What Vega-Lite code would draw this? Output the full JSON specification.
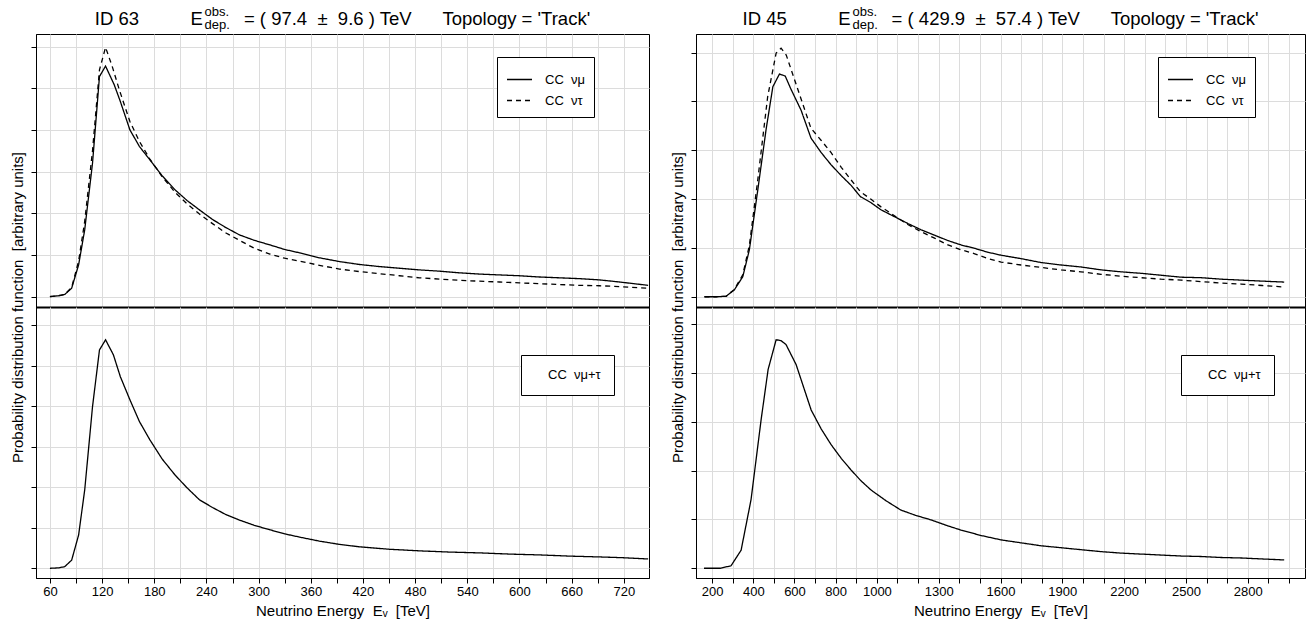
{
  "$schema": "https://vega.github.io/schema/vega-lite/v6.json",
  "background": "white",
  "padding": {"left": 9, "top": 6, "right": 6, "bottom": 4},
  "config": {
    "font": "Liberation Sans",
    "view": {"stroke": "#000", "strokeWidth": 1},
    "axis": {"gridColor": "#dcdcdc", "gridWidth": 1, "domainColor": "#000", "tickColor": "#000", "labelColor": "#000", "titleColor": "#000", "labelFont": "Liberation Sans", "titleFont": "Liberation Sans", "titleFontWeight": "normal", "labelFontSize": 13, "titleFontSize": 15},
    "title": {"font": "Liberation Sans", "fontWeight": "normal", "color": "#000", "subtitleFont": "Liberation Sans", "subtitleColor": "#000"},
    "legend": {"labelFont": "Liberation Sans", "labelFontSize": 13, "labelColor": "#000"}
  },
  "datasets": {
    "a_up": [
      {"E": 60, "pdf": 0, "ch": "mu"}, {"E": 70, "pdf": 0.02, "ch": "mu"}, {"E": 77, "pdf": 0.05, "ch": "mu"}, {"E": 85, "pdf": 0.2, "ch": "mu"}, {"E": 93, "pdf": 0.76, "ch": "mu"}, {"E": 100, "pdf": 1.6, "ch": "mu"}, {"E": 109, "pdf": 3.2, "ch": "mu"}, {"E": 117, "pdf": 5.28, "ch": "mu"}, {"E": 124, "pdf": 5.53, "ch": "mu"}, {"E": 134, "pdf": 5.08, "ch": "mu"}, {"E": 141, "pdf": 4.68, "ch": "mu"}, {"E": 152, "pdf": 4.0, "ch": "mu"}, {"E": 163, "pdf": 3.6, "ch": "mu"}, {"E": 175, "pdf": 3.28, "ch": "mu"}, {"E": 189, "pdf": 2.9, "ch": "mu"}, {"E": 204, "pdf": 2.56, "ch": "mu"}, {"E": 218, "pdf": 2.3, "ch": "mu"}, {"E": 232, "pdf": 2.08, "ch": "mu"}, {"E": 247, "pdf": 1.85, "ch": "mu"}, {"E": 262, "pdf": 1.66, "ch": "mu"}, {"E": 278, "pdf": 1.48, "ch": "mu"}, {"E": 295, "pdf": 1.35, "ch": "mu"}, {"E": 313, "pdf": 1.24, "ch": "mu"}, {"E": 330, "pdf": 1.13, "ch": "mu"}, {"E": 347, "pdf": 1.05, "ch": "mu"}, {"E": 370, "pdf": 0.93, "ch": "mu"}, {"E": 393, "pdf": 0.84, "ch": "mu"}, {"E": 416, "pdf": 0.77, "ch": "mu"}, {"E": 439, "pdf": 0.72, "ch": "mu"}, {"E": 462, "pdf": 0.68, "ch": "mu"}, {"E": 485, "pdf": 0.64, "ch": "mu"}, {"E": 508, "pdf": 0.61, "ch": "mu"}, {"E": 531, "pdf": 0.57, "ch": "mu"}, {"E": 554, "pdf": 0.54, "ch": "mu"}, {"E": 577, "pdf": 0.52, "ch": "mu"}, {"E": 600, "pdf": 0.5, "ch": "mu"}, {"E": 623, "pdf": 0.47, "ch": "mu"}, {"E": 646, "pdf": 0.45, "ch": "mu"}, {"E": 669, "pdf": 0.43, "ch": "mu"}, {"E": 692, "pdf": 0.4, "ch": "mu"}, {"E": 715, "pdf": 0.35, "ch": "mu"}, {"E": 748, "pdf": 0.27, "ch": "mu"},
      {"E": 60, "pdf": 0, "ch": "tau"}, {"E": 70, "pdf": 0.02, "ch": "tau"}, {"E": 77, "pdf": 0.05, "ch": "tau"}, {"E": 85, "pdf": 0.22, "ch": "tau"}, {"E": 93, "pdf": 0.85, "ch": "tau"}, {"E": 100, "pdf": 1.8, "ch": "tau"}, {"E": 109, "pdf": 3.5, "ch": "tau"}, {"E": 117, "pdf": 5.44, "ch": "tau"}, {"E": 124, "pdf": 5.98, "ch": "tau"}, {"E": 132, "pdf": 5.5, "ch": "tau"}, {"E": 140, "pdf": 4.95, "ch": "tau"}, {"E": 152, "pdf": 4.2, "ch": "tau"}, {"E": 163, "pdf": 3.72, "ch": "tau"}, {"E": 175, "pdf": 3.3, "ch": "tau"}, {"E": 189, "pdf": 2.88, "ch": "tau"}, {"E": 204, "pdf": 2.5, "ch": "tau"}, {"E": 218, "pdf": 2.22, "ch": "tau"}, {"E": 232, "pdf": 1.98, "ch": "tau"}, {"E": 247, "pdf": 1.75, "ch": "tau"}, {"E": 262, "pdf": 1.53, "ch": "tau"}, {"E": 278, "pdf": 1.35, "ch": "tau"}, {"E": 295, "pdf": 1.16, "ch": "tau"}, {"E": 313, "pdf": 1.02, "ch": "tau"}, {"E": 330, "pdf": 0.92, "ch": "tau"}, {"E": 347, "pdf": 0.85, "ch": "tau"}, {"E": 370, "pdf": 0.75, "ch": "tau"}, {"E": 393, "pdf": 0.66, "ch": "tau"}, {"E": 416, "pdf": 0.6, "ch": "tau"}, {"E": 439, "pdf": 0.55, "ch": "tau"}, {"E": 462, "pdf": 0.5, "ch": "tau"}, {"E": 485, "pdf": 0.45, "ch": "tau"}, {"E": 508, "pdf": 0.42, "ch": "tau"}, {"E": 531, "pdf": 0.39, "ch": "tau"}, {"E": 554, "pdf": 0.37, "ch": "tau"}, {"E": 577, "pdf": 0.35, "ch": "tau"}, {"E": 600, "pdf": 0.33, "ch": "tau"}, {"E": 623, "pdf": 0.31, "ch": "tau"}, {"E": 646, "pdf": 0.29, "ch": "tau"}, {"E": 669, "pdf": 0.27, "ch": "tau"}, {"E": 692, "pdf": 0.26, "ch": "tau"}, {"E": 715, "pdf": 0.24, "ch": "tau"}, {"E": 748, "pdf": 0.2, "ch": "tau"}
    ],
    "a_lo": [
      {"E": 60, "pdf": 0, "ch": "sum"}, {"E": 70, "pdf": 0.01, "ch": "sum"}, {"E": 77, "pdf": 0.04, "ch": "sum"}, {"E": 85, "pdf": 0.2, "ch": "sum"}, {"E": 93, "pdf": 0.82, "ch": "sum"}, {"E": 100, "pdf": 1.93, "ch": "sum"}, {"E": 109, "pdf": 3.99, "ch": "sum"}, {"E": 117, "pdf": 5.39, "ch": "sum"}, {"E": 124, "pdf": 5.64, "ch": "sum"}, {"E": 133, "pdf": 5.27, "ch": "sum"}, {"E": 141, "pdf": 4.73, "ch": "sum"}, {"E": 152, "pdf": 4.16, "ch": "sum"}, {"E": 163, "pdf": 3.62, "ch": "sum"}, {"E": 175, "pdf": 3.17, "ch": "sum"}, {"E": 189, "pdf": 2.7, "ch": "sum"}, {"E": 204, "pdf": 2.3, "ch": "sum"}, {"E": 218, "pdf": 1.98, "ch": "sum"}, {"E": 232, "pdf": 1.69, "ch": "sum"}, {"E": 247, "pdf": 1.5, "ch": "sum"}, {"E": 262, "pdf": 1.33, "ch": "sum"}, {"E": 278, "pdf": 1.19, "ch": "sum"}, {"E": 295, "pdf": 1.06, "ch": "sum"}, {"E": 313, "pdf": 0.95, "ch": "sum"}, {"E": 330, "pdf": 0.85, "ch": "sum"}, {"E": 347, "pdf": 0.77, "ch": "sum"}, {"E": 370, "pdf": 0.67, "ch": "sum"}, {"E": 393, "pdf": 0.59, "ch": "sum"}, {"E": 416, "pdf": 0.53, "ch": "sum"}, {"E": 450, "pdf": 0.47, "ch": "sum"}, {"E": 485, "pdf": 0.43, "ch": "sum"}, {"E": 520, "pdf": 0.4, "ch": "sum"}, {"E": 554, "pdf": 0.38, "ch": "sum"}, {"E": 589, "pdf": 0.35, "ch": "sum"}, {"E": 623, "pdf": 0.33, "ch": "sum"}, {"E": 658, "pdf": 0.3, "ch": "sum"}, {"E": 692, "pdf": 0.28, "ch": "sum"}, {"E": 720, "pdf": 0.26, "ch": "sum"}, {"E": 748, "pdf": 0.23, "ch": "sum"}
    ],
    "b_up": [
      {"E": 163, "pdf": 0, "ch": "mu"}, {"E": 220, "pdf": 0, "ch": "mu"}, {"E": 268, "pdf": 0.01, "ch": "mu"}, {"E": 308, "pdf": 0.14, "ch": "mu"}, {"E": 349, "pdf": 0.41, "ch": "mu"}, {"E": 381, "pdf": 0.96, "ch": "mu"}, {"E": 422, "pdf": 2.19, "ch": "mu"}, {"E": 462, "pdf": 3.42, "ch": "mu"}, {"E": 495, "pdf": 4.3, "ch": "mu"}, {"E": 527, "pdf": 4.56, "ch": "mu"}, {"E": 555, "pdf": 4.52, "ch": "mu"}, {"E": 583, "pdf": 4.25, "ch": "mu"}, {"E": 632, "pdf": 3.82, "ch": "mu"}, {"E": 680, "pdf": 3.25, "ch": "mu"}, {"E": 730, "pdf": 2.95, "ch": "mu"}, {"E": 778, "pdf": 2.7, "ch": "mu"}, {"E": 827, "pdf": 2.48, "ch": "mu"}, {"E": 875, "pdf": 2.28, "ch": "mu"}, {"E": 920, "pdf": 2.05, "ch": "mu"}, {"E": 970, "pdf": 1.93, "ch": "mu"}, {"E": 1020, "pdf": 1.78, "ch": "mu"}, {"E": 1085, "pdf": 1.64, "ch": "mu"}, {"E": 1150, "pdf": 1.5, "ch": "mu"}, {"E": 1215, "pdf": 1.37, "ch": "mu"}, {"E": 1280, "pdf": 1.26, "ch": "mu"}, {"E": 1345, "pdf": 1.15, "ch": "mu"}, {"E": 1409, "pdf": 1.06, "ch": "mu"}, {"E": 1475, "pdf": 0.99, "ch": "mu"}, {"E": 1540, "pdf": 0.91, "ch": "mu"}, {"E": 1603, "pdf": 0.85, "ch": "mu"}, {"E": 1700, "pdf": 0.78, "ch": "mu"}, {"E": 1797, "pdf": 0.7, "ch": "mu"}, {"E": 1894, "pdf": 0.65, "ch": "mu"}, {"E": 1990, "pdf": 0.61, "ch": "mu"}, {"E": 2088, "pdf": 0.55, "ch": "mu"}, {"E": 2185, "pdf": 0.51, "ch": "mu"}, {"E": 2282, "pdf": 0.48, "ch": "mu"}, {"E": 2380, "pdf": 0.44, "ch": "mu"}, {"E": 2477, "pdf": 0.4, "ch": "mu"}, {"E": 2574, "pdf": 0.39, "ch": "mu"}, {"E": 2671, "pdf": 0.36, "ch": "mu"}, {"E": 2768, "pdf": 0.34, "ch": "mu"}, {"E": 2870, "pdf": 0.32, "ch": "mu"}, {"E": 2977, "pdf": 0.3, "ch": "mu"},
      {"E": 163, "pdf": 0, "ch": "tau"}, {"E": 220, "pdf": 0, "ch": "tau"}, {"E": 268, "pdf": 0.01, "ch": "tau"}, {"E": 308, "pdf": 0.15, "ch": "tau"}, {"E": 349, "pdf": 0.45, "ch": "tau"}, {"E": 381, "pdf": 1.05, "ch": "tau"}, {"E": 422, "pdf": 2.4, "ch": "tau"}, {"E": 470, "pdf": 4.1, "ch": "tau"}, {"E": 511, "pdf": 4.99, "ch": "tau"}, {"E": 535, "pdf": 5.09, "ch": "tau"}, {"E": 560, "pdf": 4.95, "ch": "tau"}, {"E": 600, "pdf": 4.45, "ch": "tau"}, {"E": 632, "pdf": 4.05, "ch": "tau"}, {"E": 680, "pdf": 3.45, "ch": "tau"}, {"E": 730, "pdf": 3.2, "ch": "tau"}, {"E": 778, "pdf": 2.95, "ch": "tau"}, {"E": 827, "pdf": 2.65, "ch": "tau"}, {"E": 875, "pdf": 2.39, "ch": "tau"}, {"E": 920, "pdf": 2.15, "ch": "tau"}, {"E": 970, "pdf": 2.0, "ch": "tau"}, {"E": 1020, "pdf": 1.84, "ch": "tau"}, {"E": 1085, "pdf": 1.66, "ch": "tau"}, {"E": 1150, "pdf": 1.48, "ch": "tau"}, {"E": 1215, "pdf": 1.33, "ch": "tau"}, {"E": 1280, "pdf": 1.2, "ch": "tau"}, {"E": 1345, "pdf": 1.06, "ch": "tau"}, {"E": 1409, "pdf": 0.96, "ch": "tau"}, {"E": 1475, "pdf": 0.88, "ch": "tau"}, {"E": 1540, "pdf": 0.78, "ch": "tau"}, {"E": 1603, "pdf": 0.71, "ch": "tau"}, {"E": 1700, "pdf": 0.65, "ch": "tau"}, {"E": 1797, "pdf": 0.6, "ch": "tau"}, {"E": 1894, "pdf": 0.55, "ch": "tau"}, {"E": 1990, "pdf": 0.51, "ch": "tau"}, {"E": 2088, "pdf": 0.46, "ch": "tau"}, {"E": 2185, "pdf": 0.42, "ch": "tau"}, {"E": 2282, "pdf": 0.39, "ch": "tau"}, {"E": 2380, "pdf": 0.36, "ch": "tau"}, {"E": 2477, "pdf": 0.34, "ch": "tau"}, {"E": 2574, "pdf": 0.31, "ch": "tau"}, {"E": 2671, "pdf": 0.28, "ch": "tau"}, {"E": 2768, "pdf": 0.26, "ch": "tau"}, {"E": 2870, "pdf": 0.23, "ch": "tau"}, {"E": 2977, "pdf": 0.2, "ch": "tau"}
    ],
    "b_lo": [
      {"E": 161, "pdf": 0, "ch": "sum"}, {"E": 240, "pdf": 0, "ch": "sum"}, {"E": 292, "pdf": 0.05, "ch": "sum"}, {"E": 341, "pdf": 0.37, "ch": "sum"}, {"E": 389, "pdf": 1.4, "ch": "sum"}, {"E": 438, "pdf": 3.04, "ch": "sum"}, {"E": 472, "pdf": 4.07, "ch": "sum"}, {"E": 511, "pdf": 4.68, "ch": "sum"}, {"E": 535, "pdf": 4.66, "ch": "sum"}, {"E": 559, "pdf": 4.58, "ch": "sum"}, {"E": 608, "pdf": 4.17, "ch": "sum"}, {"E": 681, "pdf": 3.24, "ch": "sum"}, {"E": 730, "pdf": 2.85, "ch": "sum"}, {"E": 778, "pdf": 2.53, "ch": "sum"}, {"E": 827, "pdf": 2.25, "ch": "sum"}, {"E": 875, "pdf": 2.01, "ch": "sum"}, {"E": 923, "pdf": 1.79, "ch": "sum"}, {"E": 972, "pdf": 1.6, "ch": "sum"}, {"E": 1045, "pdf": 1.38, "ch": "sum"}, {"E": 1117, "pdf": 1.19, "ch": "sum"}, {"E": 1190, "pdf": 1.08, "ch": "sum"}, {"E": 1263, "pdf": 0.99, "ch": "sum"}, {"E": 1336, "pdf": 0.88, "ch": "sum"}, {"E": 1409, "pdf": 0.78, "ch": "sum"}, {"E": 1506, "pdf": 0.67, "ch": "sum"}, {"E": 1603, "pdf": 0.58, "ch": "sum"}, {"E": 1700, "pdf": 0.52, "ch": "sum"}, {"E": 1797, "pdf": 0.46, "ch": "sum"}, {"E": 1894, "pdf": 0.42, "ch": "sum"}, {"E": 1990, "pdf": 0.38, "ch": "sum"}, {"E": 2088, "pdf": 0.34, "ch": "sum"}, {"E": 2185, "pdf": 0.31, "ch": "sum"}, {"E": 2282, "pdf": 0.29, "ch": "sum"}, {"E": 2380, "pdf": 0.27, "ch": "sum"}, {"E": 2477, "pdf": 0.25, "ch": "sum"}, {"E": 2574, "pdf": 0.24, "ch": "sum"}, {"E": 2671, "pdf": 0.22, "ch": "sum"}, {"E": 2768, "pdf": 0.21, "ch": "sum"}, {"E": 2870, "pdf": 0.19, "ch": "sum"}, {"E": 2977, "pdf": 0.17, "ch": "sum"}
    ]
  },
  "hconcat": [
    {
      "vconcat": [
        {
          "width": 613, "height": 273,
          "title": {"text": "ID 63\u00a0\u00a0\u00a0\u00a0\u00a0\u00a0\u00a0\u00a0\u00a0\u00a0E\u00a0\u00a0\u00a0\u00a0\u00a0\u00a0\u00a0\u00a0= ( 97.4\u00a0\u00a0±\u00a0\u00a09.6 ) TeV\u00a0\u00a0\u00a0\u00a0\u00a0\u00a0Topology = 'Track'", "fontSize": 18.5, "anchor": "middle", "offset": 6, "color": "#000"},
          "data": {"name": "a_up"},
          "mark": {"type": "line", "color": "#000", "strokeWidth": 1.3},
          "encoding": {
            "x": {"field": "E", "type": "quantitative", "scale": {"domain": [44, 749], "nice": false, "zero": false},
                  "axis": {"values": [60, 90, 120, 150, 180, 210, 240, 270, 300, 330, 360, 390, 420, 450, 480, 510, 540, 570, 600, 630, 660, 690, 720, 750], "labels": false, "ticks": false, "domainWidth": 2.2, "title": null, "grid": true}},
            "y": {"field": "pdf", "type": "quantitative", "scale": {"domain": [-0.25, 6.3], "nice": false, "zero": false},
                  "axis": {"values": [0, 1, 2, 3, 4, 5, 6], "labels": false, "tickSize": 5, "grid": true, "title": "Probability distribution function\u00a0\u00a0[arbitrary units]", "titleX": -19, "titleY": 273, "titleAlign": "center", "titleAngle": -90, "titleBaseline": "middle"}},
            "strokeDash": {"field": "ch", "type": "nominal", "scale": {"domain": ["mu", "tau"], "range": [[1, 0], [5, 4]]},
                  "legend": {"orient": "none", "legendX": 461, "legendY": 23, "title": null, "labelExpr": "datum.value === 'mu' ? 'CC\u00a0\u00a0νμ' : 'CC\u00a0\u00a0ντ'", "strokeColor": "#000", "fillColor": "#fff", "padding": 9, "symbolType": "stroke", "symbolSize": 625, "symbolStrokeWidth": 1.5, "symbolStrokeColor": "#000", "labelOffset": 12, "rowPadding": -4}}
          }
        },
        {
          "width": 613, "height": 271,
          "data": {"name": "a_lo"},
          "mark": {"type": "line", "color": "#000", "strokeWidth": 1.3},
          "encoding": {
            "x": {"field": "E", "type": "quantitative", "scale": {"domain": [44, 749], "nice": false, "zero": false},
                  "axis": {"values": [60, 90, 120, 150, 180, 210, 240, 270, 300, 330, 360, 390, 420, 450, 480, 510, 540, 570, 600, 630, 660, 690, 720, 750], "format": "d", "labelExpr": "datum.value % 60 === 0 ? datum.label : ''", "labelOverlap": false, "labelFlush": false, "labelBound": false, "tickSize": 5, "labelPadding": 2, "grid": true, "title": "Neutrino Energy\u00a0\u00a0Eᵥ\u00a0\u00a0[TeV]", "titlePadding": 5}},
            "y": {"field": "pdf", "type": "quantitative", "scale": {"domain": [-0.24, 6.45], "nice": false, "zero": false},
                  "axis": {"values": [0, 1, 2, 3, 4, 5, 6], "labels": false, "tickSize": 5, "grid": true, "title": null}},
            "strokeDash": {"field": "ch", "type": "nominal", "scale": {"domain": ["sum"], "range": [[1, 0]]},
                  "legend": {"orient": "none", "legendX": 485, "legendY": 48, "title": null, "labelExpr": "'CC\u00a0\u00a0νμ+τ'", "strokeColor": "#000", "fillColor": "#fff", "padding": 13, "symbolType": "stroke", "symbolSize": 36, "symbolOpacity": 0, "labelOffset": 1}}
          }
        }
      ],
      "spacing": 0,
      "bounds": "flush",
      "resolve": {"scale": {"strokeDash": "independent"}, "legend": {"strokeDash": "independent"}},
      "title": {"text": "obs.", "subtitle": "dep.", "anchor": "start", "fontSize": 13, "subtitleFontSize": 13, "subtitlePadding": 0, "dx": 195, "dy": 23, "offset": 0, "color": "#000", "subtitleColor": "#000"}
    },
    {
      "vconcat": [
        {
          "width": 609, "height": 273,
          "title": {"text": "ID 45\u00a0\u00a0\u00a0\u00a0\u00a0\u00a0\u00a0\u00a0\u00a0\u00a0E\u00a0\u00a0\u00a0\u00a0\u00a0\u00a0\u00a0\u00a0= ( 429.9\u00a0\u00a0±\u00a0\u00a057.4 ) TeV\u00a0\u00a0\u00a0\u00a0\u00a0\u00a0Topology = 'Track'", "fontSize": 18.5, "anchor": "middle", "offset": 6, "color": "#000"},
          "data": {"name": "b_up"},
          "mark": {"type": "line", "color": "#000", "strokeWidth": 1.3},
          "encoding": {
            "x": {"field": "E", "type": "quantitative", "scale": {"domain": [122, 3078], "nice": false, "zero": false},
                  "axis": {"values": [200, 300, 400, 500, 600, 700, 800, 900, 1000, 1100, 1200, 1300, 1400, 1500, 1600, 1700, 1800, 1900, 2000, 2100, 2200, 2300, 2400, 2500, 2600, 2700, 2800, 2900, 3000], "labels": false, "ticks": false, "domainWidth": 2.2, "title": null, "grid": true}},
            "y": {"field": "pdf", "type": "quantitative", "scale": {"domain": [-0.21, 5.38], "nice": false, "zero": false},
                  "axis": {"values": [0, 1, 2, 3, 4, 5], "labels": false, "tickSize": 5, "grid": true, "title": "Probability distribution function\u00a0\u00a0[arbitrary units]", "titleX": -19, "titleY": 273, "titleAlign": "center", "titleAngle": -90, "titleBaseline": "middle"}},
            "strokeDash": {"field": "ch", "type": "nominal", "scale": {"domain": ["mu", "tau"], "range": [[1, 0], [5, 4]]},
                  "legend": {"orient": "none", "legendX": 462, "legendY": 23, "title": null, "labelExpr": "datum.value === 'mu' ? 'CC\u00a0\u00a0νμ' : 'CC\u00a0\u00a0ντ'", "strokeColor": "#000", "fillColor": "#fff", "padding": 9, "symbolType": "stroke", "symbolSize": 625, "symbolStrokeWidth": 1.5, "symbolStrokeColor": "#000", "labelOffset": 12, "rowPadding": -4}}
          }
        },
        {
          "width": 609, "height": 271,
          "data": {"name": "b_lo"},
          "mark": {"type": "line", "color": "#000", "strokeWidth": 1.3},
          "encoding": {
            "x": {"field": "E", "type": "quantitative", "scale": {"domain": [122, 3078], "nice": false, "zero": false},
                  "axis": {"values": [200, 300, 400, 500, 600, 700, 800, 900, 1000, 1100, 1200, 1300, 1400, 1500, 1600, 1700, 1800, 1900, 2000, 2100, 2200, 2300, 2400, 2500, 2600, 2700, 2800, 2900, 3000], "format": "d", "labelExpr": "indexof([200, 400, 600, 800, 1000, 1300, 1600, 1900, 2200, 2500, 2800], datum.value) >= 0 ? datum.label : ''", "labelOverlap": false, "labelFlush": false, "labelBound": false, "tickSize": 5, "labelPadding": 2, "grid": true, "title": "Neutrino Energy\u00a0\u00a0Eᵥ\u00a0\u00a0[TeV]", "titlePadding": 5}},
            "y": {"field": "pdf", "type": "quantitative", "scale": {"domain": [-0.2, 5.35], "nice": false, "zero": false},
                  "axis": {"values": [0, 1, 2, 3, 4, 5], "labels": false, "tickSize": 5, "grid": true, "title": null}},
            "strokeDash": {"field": "ch", "type": "nominal", "scale": {"domain": ["sum"], "range": [[1, 0]]},
                  "legend": {"orient": "none", "legendX": 485, "legendY": 48, "title": null, "labelExpr": "'CC\u00a0\u00a0νμ+τ'", "strokeColor": "#000", "fillColor": "#fff", "padding": 13, "symbolType": "stroke", "symbolSize": 36, "symbolOpacity": 0, "labelOffset": 1}}
          }
        }
      ],
      "spacing": 0,
      "bounds": "flush",
      "resolve": {"scale": {"strokeDash": "independent"}, "legend": {"strokeDash": "independent"}},
      "title": {"text": "obs.", "subtitle": "dep.", "anchor": "start", "fontSize": 13, "subtitleFontSize": 13, "subtitlePadding": 0, "dx": 183, "dy": 23, "offset": 0, "color": "#000", "subtitleColor": "#000"}
    }
  ],
  "spacing": 17,
  "resolve": {"scale": {"strokeDash": "independent", "x": "independent", "y": "independent"}}
}
